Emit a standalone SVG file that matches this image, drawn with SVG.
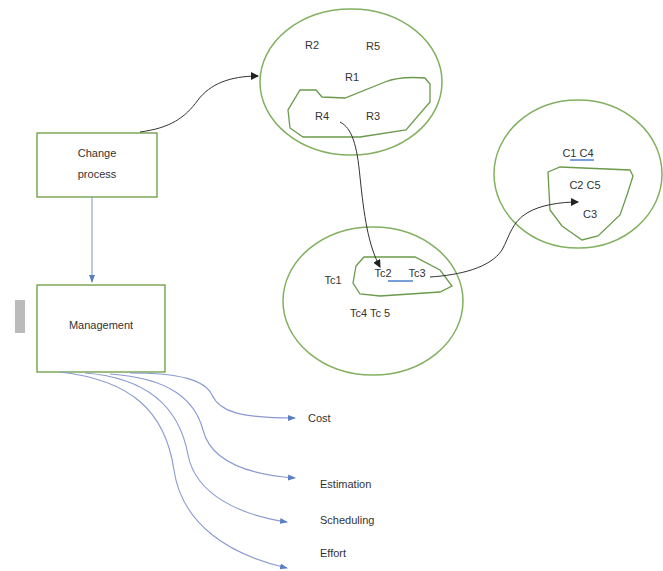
<svg xmlns="http://www.w3.org/2000/svg" width="663" height="571" viewBox="0 0 663 571">
<style>
.ell{fill:none;stroke:#82b060;stroke-width:1.5}
.blob{fill:none;stroke:#6a9a4a;stroke-width:1.3}
.box{fill:#fff;stroke:#6a9a3c;stroke-width:1.3}
.t{font-family:"Liberation Sans",Arial,sans-serif;font-size:11px;fill:#333;text-anchor:middle}
.tl{font-family:"Liberation Sans",Arial,sans-serif;font-size:11px;fill:#333}
.blk{fill:none;stroke:#333;stroke-width:1}
.blu{fill:none;stroke:#8a9ad0;stroke-width:1.1}
.ul{stroke:#4a7fd0;stroke-width:1.5}
</style>
<defs>
<marker id="ab" markerWidth="8" markerHeight="8" refX="7" refY="4" orient="auto" markerUnits="userSpaceOnUse"><path d="M0,0 L8,4 L0,8 z" fill="#222"/></marker>
<marker id="au" markerWidth="8" markerHeight="8" refX="7" refY="4" orient="auto" markerUnits="userSpaceOnUse"><path d="M0,1 L8,4 L0,7 z" fill="#5b7fc4"/></marker>
</defs>
<rect x="15" y="300" width="10" height="33" fill="#bbbbbb"/>
<g id="requirements">
<ellipse class="ell" cx="351" cy="82" rx="91" ry="73"/>
<path class="blob" d="M300,90 L316,90 L322,97 L345,98 L385,82 Q400,76 425,78 L430,84 L430,102 L406,130 L360,137 L303,137 L290,128 L288,110 Z"/>
<text class="t" x="312" y="49">R2</text>
<text class="t" x="373" y="50">R5</text>
<text class="t" x="352" y="81">R1</text>
<text class="t" x="322" y="120">R4</text>
<text class="t" x="373" y="120">R3</text>
</g>
<g id="components">
<ellipse class="ell" cx="578" cy="174" rx="84" ry="74"/>
<path class="blob" d="M548,172 L560,167 L630,170 L633,176 L627,195 L620,215 L598,236 L582,240 L562,226 L550,210 Z"/>
<text class="t" x="578" y="157">C1 C4</text>
<line class="ul" x1="570" y1="160" x2="594" y2="160"/>
<text class="t" x="585" y="189">C2 C5</text>
<text class="t" x="590" y="218">C3</text>
</g>
<g id="testcases">
<ellipse class="ell" cx="373" cy="301" rx="90" ry="74"/>
<path class="blob" d="M356,266 L364,257 L415,257 L440,270 L452,286 L440,292 L380,296 L360,294 L353,283 Z"/>
<text class="t" x="333" y="284">Tc1</text>
<text class="t" x="383" y="277">Tc2</text>
<text class="t" x="417" y="277">Tc3</text>
<line class="ul" x1="388" y1="281" x2="413" y2="281"/>
<text class="t" x="370" y="317">Tc4 Tc 5</text>
</g>
<g id="change-process">
<rect class="box" x="37" y="133" width="120" height="64"/>
<text class="t" x="97" y="157">Change</text>
<text class="t" x="97" y="178">process</text>
</g>
<g id="management">
<rect class="box" x="37" y="285" width="128" height="87"/>
<text class="t" x="101" y="329">Management</text>
</g>
<g id="labels">
<text class="tl" x="308" y="422">Cost</text>
<text class="tl" x="320" y="488">Estimation</text>
<text class="tl" x="320" y="524">Scheduling</text>
<text class="tl" x="320" y="557">Effort</text>
</g>
<g id="connectors">
<path class="blk" marker-end="url(#ab)" d="M140,132 C170,128 185,118 198,100 C210,84 230,76 258,76"/>
<path class="blk" marker-end="url(#ab)" d="M340,122 C352,128 357,145 360,177 C364,215 368,245 380,267"/>
<path class="blk" marker-end="url(#ab)" d="M430,277 C460,275 490,268 502,250 C510,235 512,222 527,213 C540,205 560,202 578,202"/>
<path class="blu" marker-end="url(#au)" d="M92,197 L92,282"/>
<path class="blu" marker-end="url(#au)" d="M130,373 C180,373 205,380 212,395 C220,412 240,418 295,418"/>
<path class="blu" marker-end="url(#au)" d="M110,374 C170,378 195,400 203,430 C210,458 240,474 295,478"/>
<path class="blu" marker-end="url(#au)" d="M85,373 C150,378 180,410 188,455 C196,495 240,515 287,522"/>
<path class="blu" marker-end="url(#au)" d="M60,372 C130,380 165,410 174,470 C182,525 230,555 287,568"/>
</g>
</svg>
